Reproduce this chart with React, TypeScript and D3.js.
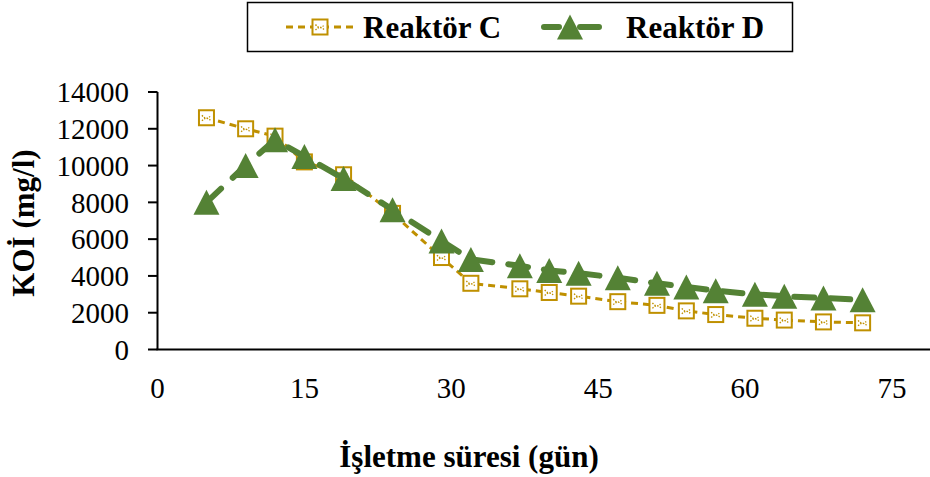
import React from "react";
import * as d3 from "d3";

// Operating time (days) and COD readings for the two reactors
const days = [5, 9, 12, 15, 19, 24, 29, 32, 37, 40, 43, 47, 51, 54, 57, 61, 64, 68, 72];
const reaktorC = [12600, 12000, 11600, 10200, 9500, 7400, 5000, 3600, 3300, 3100, 2900, 2600, 2400, 2100, 1900, 1700, 1600, 1500, 1450];
const reaktorD = [8000, 10000, 11400, 10500, 9300, 7600, 5900, 4900, 4550, 4300, 4150, 3900, 3600, 3400, 3200, 3000, 2900, 2800, 2700];

const yTicks = [0, 2000, 4000, 6000, 8000, 10000, 12000, 14000];
const xTicks = [0, 15, 30, 45, 60, 75];

const seriesNames = ["Reaktör C", "Reaktör D"];
const yTitle = "KOİ (mg/l)";
const xTitle = "İşletme süresi (gün)";

const W = 930;
const H = 477;
const GOLD = "#BF9000";
const GREEN = "#548235";
const FONT = "'Liberation Serif', 'Times New Roman', serif";

const x = d3.scaleLinear().domain([0, 75]).range([157.5, 892]);
const y = d3.scaleLinear().domain([0, 14000]).range([349.5, 92]);

type Pt = [number, number];

const squareMarker = (cx: number, cy: number, key: string | number) => {
  const s = 15;
  return (
    <g key={key} transform={`translate(${cx},${cy})`}>
      <rect x={-s / 2} y={-s / 2} width={s} height={s} fill="#fff" stroke={GOLD} strokeWidth={2} />
      <path
        d="M-4.5,-2.5 Q0,3.5 4.5,-2.5 M-4.5,3 Q0,-2 4.5,3"
        fill="none"
        stroke={GOLD}
        strokeWidth={1.3}
        strokeDasharray="1.4 1.4"
      />
    </g>
  );
};

const triangleMarker = (cx: number, cy: number, key: string | number) => {
  const w = 26;
  const h = 25;
  return (
    <path
      key={key}
      d={`M${cx},${cy - h / 2} L${cx + w / 2},${cy + h / 2} L${cx - w / 2},${cy + h / 2} Z`}
      fill={GREEN}
    />
  );
};

export default function App() {
  const ptsC: Pt[] = days.map((d, i) => [x(d), y(reaktorC[i])]);
  const ptsD: Pt[] = days.map((d, i) => [x(d), y(reaktorD[i])]);
  const line = d3.line<Pt>().x((p) => p[0]).y((p) => p[1]);

  return (
    <svg
      width={W}
      height={H}
      style={{ position: "absolute", left: 0, top: 0, background: "#fff" }}
      fontFamily={FONT}
    >
      <rect width={W} height={H} fill="#fff" />

      {/* Legend */}
      <rect x={247.5} y={2.5} width={545} height={49} fill="#fff" stroke="#000" strokeWidth={1.5} />
      <line x1={286} x2={356} y1={27} y2={27} stroke={GOLD} strokeWidth={3} strokeDasharray="7 5" />
      {squareMarker(320, 27, "lc")}
      <text x={363} y={38} fontSize={31} fontWeight="bold" fill="#000">
        {seriesNames[0]}
      </text>
      <line x1={544} x2={599} y1={27} y2={27} stroke={GREEN} strokeWidth={6} strokeLinecap="round" strokeDasharray="15 25" />
      <line x1={580} x2={597} y1={27} y2={27} stroke={GREEN} strokeWidth={6} strokeLinecap="round" />
      {triangleMarker(570, 27, "ld")}
      <text x={626} y={38} fontSize={31} fontWeight="bold" fill="#000">
        {seriesNames[1]}
      </text>

      {/* Y axis */}
      <line x1={157.5} x2={157.5} y1={y(14000)} y2={y(0)} stroke="#000" strokeWidth={2} />
      {yTicks.map((t) => (
        <g key={t}>
          <line x1={148} x2={157.5} y1={y(t)} y2={y(t)} stroke="#000" strokeWidth={2} />
          <text x={129} y={y(t)} dy="0.35em" textAnchor="end" fontSize={29} fill="#000">
            {t}
          </text>
        </g>
      ))}

      {/* X axis */}
      <line x1={156.5} x2={930} y1={y(0)} y2={y(0)} stroke="#000" strokeWidth={2} />
      {xTicks.map((t) => (
        <text key={t} x={x(t)} y={398} textAnchor="middle" fontSize={29} fill="#000">
          {t}
        </text>
      ))}

      {/* Axis titles */}
      <text
        transform={`translate(34,223) rotate(-90)`}
        textAnchor="middle"
        fontSize={31}
        fontWeight="bold"
        fill="#000"
      >
        {yTitle}
      </text>
      <text x={469} y={467} textAnchor="middle" fontSize={31} fontWeight="bold" fill="#000">
        {xTitle}
      </text>

      {/* Reaktör C */}
      <path d={line(ptsC) ?? ""} fill="none" stroke={GOLD} strokeWidth={3} strokeDasharray="7 5" />
      {ptsC.map((p, i) => squareMarker(p[0], p[1], `c${i}`))}

      {/* Reaktör D */}
      <path
        d={line(ptsD) ?? ""}
        fill="none"
        stroke={GREEN}
        strokeWidth={6}
        strokeLinecap="round"
        strokeDasharray="20 16"
      />
      {ptsD.map((p, i) => triangleMarker(p[0], p[1], `d${i}`))}
    </svg>
  );
}
